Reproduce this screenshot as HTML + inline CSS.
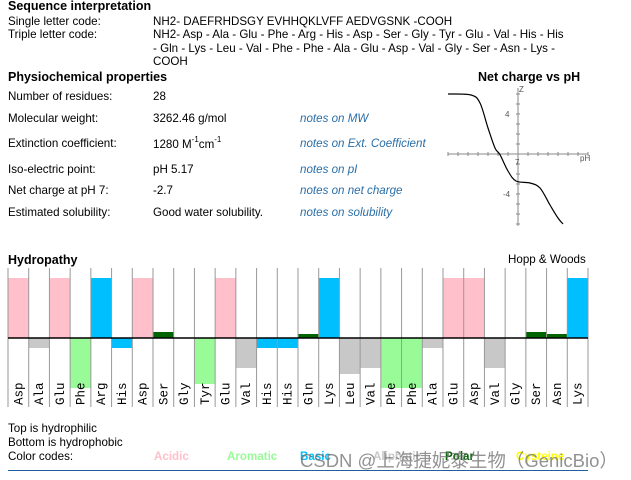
<!DOCTYPE html>
<html><head><meta charset="utf-8"><style>
body{margin:0;width:631px;height:480px;background:#fff;font-family:"Liberation Sans","Noto Sans CJK SC",sans-serif;font-size:11.6px;color:#000;position:relative;overflow:hidden}
.t{position:absolute;white-space:nowrap;line-height:13px}
.h{font-weight:bold;font-size:12.5px}
.n{color:#2a6ea6;font-style:italic}
sup{font-size:8px;line-height:0;position:relative;top:-1px}
</style></head><body>
<div class="t h" style="left:8px;top:0px">Sequence interpretation</div>
<div class="t" style="left:8px;top:15px">Single letter code:</div>
<div class="t" style="left:153px;top:15px">NH2- DAEFRHDSGY EVHHQKLVFF AEDVGSNK -COOH</div>
<div class="t" style="left:8px;top:28px">Triple letter code:</div>
<div class="t" style="left:153px;top:28px;line-height:13.5px">NH2- Asp - Ala - Glu - Phe - Arg - His - Asp - Ser - Gly - Tyr - Glu - Val - His - His<br>- Gln - Lys - Leu - Val - Phe - Phe - Ala - Glu - Asp - Val - Gly - Ser - Asn - Lys -<br>COOH</div>

<div class="t h" style="left:8px;top:71px">Physiochemical properties</div>
<div class="t" style="left:8px;top:90px">Number of residues:</div>
<div class="t" style="left:153px;top:90px">28</div>
<div class="t" style="left:8px;top:112px">Molecular weight:</div>
<div class="t" style="left:153px;top:112px">3262.46 g/mol</div>
<div class="t n" style="left:300px;top:112px">notes on MW</div>
<div class="t" style="left:8px;top:137px">Extinction coefficient:</div>
<div class="t" style="left:153px;top:138px">1280 M<sup>-1</sup>cm<sup>-1</sup></div>
<div class="t n" style="left:300px;top:137px">notes on Ext. Coefficient</div>
<div class="t" style="left:8px;top:163px">Iso-electric point:</div>
<div class="t" style="left:153px;top:163px">pH 5.17</div>
<div class="t n" style="left:300px;top:163px">notes on pI</div>
<div class="t" style="left:8px;top:184px">Net charge at pH 7:</div>
<div class="t" style="left:153px;top:184px">-2.7</div>
<div class="t n" style="left:300px;top:184px">notes on net charge</div>
<div class="t" style="left:8px;top:206px">Estimated solubility:</div>
<div class="t" style="left:153px;top:206px">Good water solubility.</div>
<div class="t n" style="left:300px;top:206px">notes on solubility</div>

<div class="t h" style="left:478px;top:71px">Net charge vs pH</div>
<svg id="cc" style="position:absolute;left:0;top:0" width="631" height="480"></svg>

<div class="t h" style="left:8px;top:254px">Hydropathy</div>
<div class="t" style="left:508px;top:253px">Hopp &amp; Woods</div>
<svg id="hc" style="position:absolute;left:0;top:0" width="631" height="480"></svg>

<div class="t" style="left:8px;top:422px">Top is hydrophilic</div>
<div class="t" style="left:8px;top:436px">Bottom is hydrophobic</div>
<div class="t" style="left:8px;top:450px">Color codes:</div>
<div class="t" style="left:154px;top:450px;color:#ffc0cb;font-weight:bold">Acidic</div>
<div class="t" style="left:227px;top:450px;color:#98fb98;font-weight:bold">Aromatic</div>
<div class="t" style="left:300px;top:450px;color:#00bfff;font-weight:bold">Basic</div>
<div class="t" style="left:373px;top:450px;color:#c8c8c8;font-weight:bold">Aliphatic</div>
<div class="t" style="left:445px;top:450px;color:#006400;font-weight:bold">Polar</div>
<div class="t" style="left:516px;top:450px;color:#ffff00;font-weight:bold">Cysteine</div>
<div style="position:absolute;left:8px;top:470px;width:580px;height:1px;background:#1f5f9f"></div>
<div class="t" style="left:300px;top:450px;font-size:18.5px;line-height:22px;color:rgba(110,110,110,0.75)">CSDN @上海捷妮泰生物（GenicBio）</div>

<script>
const residues=["Asp","Ala","Glu","Phe","Arg","His","Asp","Ser","Gly","Tyr","Glu","Val","His","His","Gln","Lys","Leu","Val","Phe","Phe","Ala","Glu","Asp","Val","Gly","Ser","Asn","Lys"];
const hydro=[3,-0.5,3,-2.5,3,-0.5,3,0.3,0,-2.3,3,-1.5,-0.5,-0.5,0.2,3,-1.8,-1.5,-2.5,-2.5,-0.5,3,3,-1.5,0,0.3,0.2,3];
const classes=["acid","hyd","acid","aro","basic","basic","acid","polar","polar","aro","acid","hyd","basic","basic","polar","basic","hyd","hyd","aro","aro","hyd","acid","acid","hyd","polar","polar","polar","basic"];
const phVals=[0,2.3,3.2,4,4.7,5.2,6,6.8,8.2,9.2,10.2,11,11.5];
const zVals=[6,5.9,5.1,2.6,0.6,-0.07,-1.7,-2.7,-2.9,-3.4,-5.1,-6.4,-7];
const phTicks=[0,1,2,3,4,5,6,7,8,9,10,11,12,13,14];
const zTicks=[-7,-6,-5,-4,-3,-2,-1,1,2,3,4,5,6];
const NS="http://www.w3.org/2000/svg";
function mk(p,t,a){const e=document.createElementNS(NS,t);for(const k in a)e.setAttribute(k,a[k]);p.appendChild(e);return e;}
const col={acid:"#ffc0cb",basic:"#00bfff",aro:"#98fb98",hyd:"#c8c8c8",polar:"#006400"};
const hc=document.getElementById('hc');
const x0=8,x1=588,cw=(x1-x0)/residues.length,base=338,unit=20;
const xb=i=>x0+i*cw, yv=v=>base-v*unit;
residues.forEach((r,i)=>{
 const v=hydro[i];
 const b=mk(hc,'rect',{x:xb(i),y:Math.min(yv(v),base),width:cw,height:Math.abs(v*unit),fill:col[classes[i]]});
 
 
 const t=mk(hc,'text',{transform:`translate(${xb(i)+cw/2+4},405) rotate(-90)`,'font-family':'Liberation Mono, monospace','font-size':'12.5'});
 t.textContent=r;
 
 
});
for(let i=0;i<=residues.length;i++){const l=mk(hc,'line',{x1:xb(i),x2:xb(i),y1:268,y2:407,stroke:'#999','stroke-width':1});
 
 }
const bl=mk(hc,'line',{x1:x0,x2:x1,y1:base,y2:base,stroke:'#000','stroke-width':1.5});


const cc=document.getElementById('cc');
const ox=448,oy=154,sx=10,sy=10;
const px=p=>ox+p*sx, pz=z=>oy-z*sy;
const xa=mk(cc,'line',{x1:px(0),x2:px(14),y1:oy,y2:oy,stroke:'#888'});


const za=mk(cc,'line',{x1:px(7),x2:px(7),y1:pz(6.6),y2:pz(-7.2),stroke:'#888'});


phTicks.forEach(p=>{const t=mk(cc,'line',{x1:px(p),x2:px(p),y1:oy-2,y2:oy+2,stroke:'#888'});
 
 });
zTicks.forEach(z=>{const t=mk(cc,'line',{x1:px(7)-2,x2:px(7)+2,y1:pz(z),y2:pz(z),stroke:'#888'});
 
 });
[[px(7)+1,pz(6.2),'Z'],[px(6.2)-5,pz(4)+3,'4'],[px(6.2)-7,pz(-4)+3,'-4'],[px(7)-3,oy+11,'7'],[px(13)+2,oy+7,'pH']].forEach(a=>{
 const t=mk(cc,'text',{x:a[0],y:a[1],'font-size':'8','fill':'#555','font-family':'Liberation Sans, sans-serif'});t.textContent=a[2];
 
 });
const P=phVals.map((p,i)=>[px(p),pz(zVals[i])]);
let d='M'+P[0][0]+' '+P[0][1];
for(let i=0;i<P.length-1;i++){
 const p0=P[Math.max(0,i-1)],p1=P[i],p2=P[i+1],p3=P[Math.min(P.length-1,i+2)];
 const c1=[p1[0]+(p2[0]-p0[0])/6,p1[1]+(p2[1]-p0[1])/6],c2=[p2[0]-(p3[0]-p1[0])/6,p2[1]-(p3[1]-p1[1])/6];
 d+=`C${c1[0]} ${c1[1]} ${c2[0]} ${c2[1]} ${p2[0]} ${p2[1]}`;
}
const cl=mk(cc,'path',{d:d,fill:'none',stroke:'#000','stroke-width':1.2,'stroke-linejoin':'round'});


</script>
</body></html>
